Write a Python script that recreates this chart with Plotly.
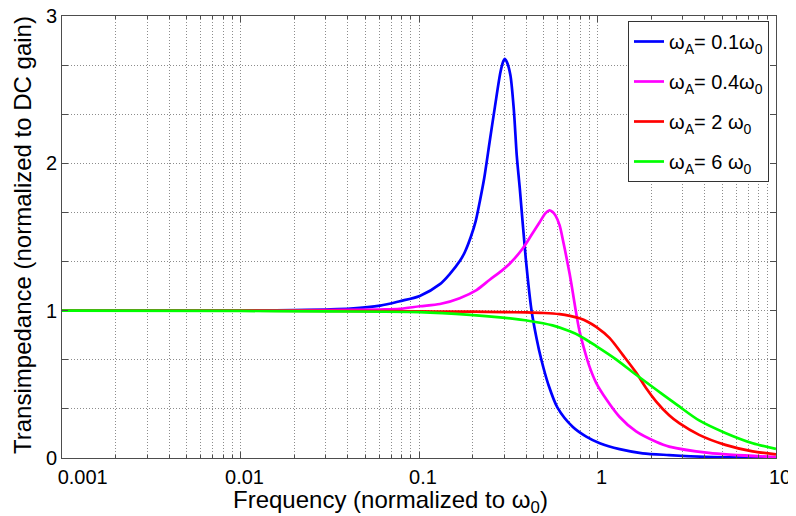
import plotly.graph_objects as go

# ---- data ----
blue_f = [0.001, 0.01, 0.02, 0.03, 0.0413, 0.0606, 0.078, 0.101, 0.131, 0.149, 0.17, 0.181,
          0.195, 0.208, 0.219, 0.232, 0.249, 0.266, 0.286, 0.296, 0.302, 0.31, 0.325, 0.340,
          0.353, 0.367, 0.396, 0.426, 0.456, 0.484, 0.53, 0.598, 0.728, 0.865, 1.03, 1.33,
          1.79, 2.52, 4.0, 10.0]
blue_v = [1.0, 1.0, 1.003, 1.008, 1.014, 1.034, 1.064, 1.10, 1.18, 1.25, 1.34, 1.40,
          1.50, 1.61, 1.74, 1.90, 2.15, 2.38, 2.62, 2.69, 2.71, 2.69, 2.60, 2.36,
          2.05, 1.83, 1.36, 1.01, 0.81, 0.67, 0.50, 0.34, 0.21, 0.145, 0.10, 0.06,
          0.032, 0.02, 0.008, 0.002]

mag_f = [0.001, 0.01, 0.03, 0.06, 0.078, 0.101, 0.131, 0.169, 0.21, 0.249, 0.29, 0.323,
         0.38, 0.43, 0.474, 0.51, 0.535, 0.56, 0.582, 0.613, 0.64, 0.668, 0.698, 0.728,
         0.753, 0.79, 0.846, 0.902, 0.983, 1.118, 1.327, 1.645, 2.127, 2.52, 4.2, 10.0]
mag_v = [1.0, 1.0, 1.003, 1.008, 1.012, 1.03, 1.045, 1.085, 1.14, 1.21, 1.27, 1.32,
         1.42, 1.52, 1.60, 1.66, 1.68, 1.67, 1.645, 1.58, 1.48, 1.37, 1.25, 1.12,
         1.01, 0.87, 0.73, 0.62, 0.51, 0.40, 0.28, 0.18, 0.11, 0.077, 0.035, 0.006]

red_f = [0.001, 0.01, 0.1, 0.2, 0.3, 0.4, 0.5, 0.613, 0.70, 0.793, 0.88, 0.983, 1.167,
         1.385, 1.645, 1.87, 2.127, 2.52, 2.87, 3.71, 5.2, 7.4, 10.0]
red_v = [1.0, 1.0, 0.995, 0.993, 0.99, 0.988, 0.984, 0.976, 0.965, 0.948, 0.925, 0.89, 0.815,
         0.70, 0.58, 0.475, 0.385, 0.29, 0.236, 0.157, 0.089, 0.045, 0.025]

green_f = [0.001, 0.01, 0.03, 0.1, 0.193, 0.284, 0.417, 0.56, 0.70, 0.793, 0.983, 1.27,
           1.645, 2.127, 2.52, 2.87, 3.71, 5.2, 7.4, 10.0]
green_v = [1.0, 0.998, 0.995, 0.99, 0.972, 0.955, 0.93, 0.90, 0.86, 0.83, 0.76, 0.67,
           0.565, 0.465, 0.40, 0.35, 0.255, 0.17, 0.10, 0.062]

series_names = ["ω<sub>A</sub>= 0.1ω<sub>0</sub>", "ω<sub>A</sub>= 0.4ω<sub>0</sub>",
                "ω<sub>A</sub>= 2 ω<sub>0</sub>", "ω<sub>A</sub>= 6 ω<sub>0</sub>"]
series_colors = ["#0000ff", "#ff00ff", "#ff0000", "#00ff00"]

x_tickvals = [0.001, 0.01, 0.1, 1, 10]
# the first label sits a little right of its grid line in the reference
x_ticktext = ["\u00a0\u00a0\u00a0\u00a0\u00a0\u00a00.001", "0.01", "0.1", "1", "10"]
y_tickvals = [0, 1, 2, 3]
y_ticktext = ["0", "1", "2", "3"]

x_title = "Frequency (normalized to ω<sub>0</sub>)"
y_title = "Transimpedance (normalized to DC gain)"

x_minor = [m * 10 ** e for e in range(-3, 1) for m in range(2, 10)]
y_minor = [1 / 3, 2 / 3, 4 / 3, 5 / 3, 7 / 3, 8 / 3]

FONT = "Liberation Sans, Arial, sans-serif"
GRID = "#8c8c8c"
GDASH = "1px,2px"

# page body has an 8px margin -> figure is 8px smaller and margins 8px less
PL, PT, PW, PH = 54, 8, 714, 442   # plot area inside the figure
FW, FH = 788, 508

fig = go.Figure()
for name, f, v, c in zip(series_names, [blue_f, mag_f, red_f, green_f],
                         [blue_v, mag_v, red_v, green_v], series_colors):
    fig.add_trace(go.Scatter(x=f, y=v, mode="lines", name=name, legendgroup=name,
                             line=dict(color=c, width=2.7, shape="spline", smoothing=0.8)))

axis_common = dict(showline=True, linecolor="#4d4d4d", linewidth=1, mirror="ticks",
                   ticks="inside", ticklen=6, tickcolor="#4d4d4d", automargin=False,
                   showgrid=True, gridcolor=GRID, griddash=GDASH, gridwidth=1,
                   zeroline=False, ticklabeloverflow="allow",
                   tickfont=dict(family=FONT, size=20, color="black"))

fig.update_xaxes(type="log", range=[-3, 1], tickvals=x_tickvals, ticktext=x_ticktext,
                 minor=dict(tickvals=x_minor, showgrid=True, gridcolor=GRID,
                            griddash=GDASH, ticks="inside", ticklen=3, tickcolor="#4d4d4d"),
                 ticklabelstandoff=1, ticklabelshift=4, **axis_common)
fig.update_yaxes(range=[0, 3], tickvals=y_tickvals, ticktext=y_ticktext,
                 minor=dict(tickvals=y_minor, showgrid=True, gridcolor=GRID,
                            griddash=GDASH, ticks="inside", ticklen=6, tickcolor="#4d4d4d"),
                 ticklabelstandoff=0, **axis_common)

# screen coords (window) -> paper coords
def px_x(sx):
    return (sx - 8 - PL) / PW

def px_y(sy):
    return (PT + PH - (sy - 8)) / PH

fig.add_annotation(text=x_title, xref="paper", yref="paper", x=px_x(390), y=px_y(501),
                   xanchor="center", yanchor="middle",
                   showarrow=False, font=dict(family=FONT, size=24, color="black"))
fig.add_annotation(text=y_title, xref="paper", yref="paper", x=px_x(22), y=px_y(235),
                   xanchor="center", yanchor="middle", textangle=-90,
                   showarrow=False, font=dict(family=FONT, size=24, color="black"))

fig.update_layout(
    width=FW, height=FH,
    margin=dict(l=PL, r=FW - PL - PW, t=PT, b=FH - PT - PH),
    paper_bgcolor="white", plot_bgcolor="white",
    showlegend=True,
    legend=dict(x=px_x(628), y=px_y(21), xanchor="left", yanchor="top",
                bgcolor="white", bordercolor="#333333", borderwidth=1,
                font=dict(family=FONT, size=20, color="black"),
                tracegroupgap=11),
)

fig.write_html("out.html")
